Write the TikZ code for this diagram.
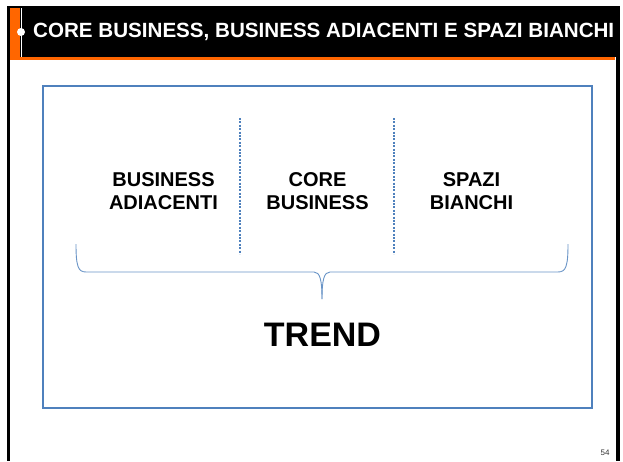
\documentclass[tikz,border=0pt]{standalone}
\usepackage{fontspec}
\setmainfont{Liberation Sans}
\usetikzlibrary{positioning}
\definecolor{slideorange}{RGB}{255,102,0}
\definecolor{boxblue}{RGB}{79,129,189}

\begin{document}
\begin{tikzpicture}[
    x=1pt, y=-1pt,
    label/.style={align=center, inner sep=0pt, font=\fontsize{20}{23.5}\selectfont\bfseries},
    titletext/.style={anchor=west, inner sep=0pt, text=white, font=\fontsize{20.6}{21}\selectfont\bfseries},
    frame/.style={draw=boxblue, line width=1.2pt},
    divider/.style={draw=boxblue, line width=2pt, dash pattern=on 2pt off 1.4pt},
    brace/.style={draw=boxblue!85, line width=0.9pt}
]
    \useasboundingbox (0,0) rectangle (623,461);
    \fill[white] (0,0) rectangle (623,461);
    % slide header and border
    \fill[black] (7,6) rectangle (620,57);
    \fill[black] (7,6) rectangle (10,461);
    \fill[black] (616,6) rectangle (620,461);
    \fill[slideorange] (10,8) rectangle (20,59);
    \fill[slideorange] (10,57) rectangle (615,59.5);
    \draw[white, line width=0.8pt] (21,8) -- (21,57);
    \fill[white] (21,32) circle (4pt);
    \node[titletext] (title) at (33,32) {CORE BUSINESS, BUSINESS ADIACENTI E SPAZI BIANCHI};

    % panel
    \draw[frame] (43,86) rectangle (592,408);
    \node[label] (adiacenti) at (163.5,191) {BUSINESS\\ADIACENTI};
    \node[label] (core) at (317.5,191) {CORE\\BUSINESS};
    \node[label] (spazi) at (471.5,191) {SPAZI\\BIANCHI};

    \coordinate (div1top) at (240,118);
    \coordinate (div1bot) at (240,254);
    \coordinate (div2top) at (394,118);
    \coordinate (div2bot) at (394,254);
    \draw[divider] (div1top) -- (div1bot);
    \draw[divider] (div2top) -- (div2bot);

    % brace
    \coordinate (braceL) at (76,244);
    \coordinate (braceR) at (568,244);
    \coordinate (tip) at (322,299);
    \draw[brace] (braceL) .. controls (76,266) and (78,272) .. (86,272) -- (314,272)
        .. controls (320,272) and (322,280) .. (tip);
    \draw[brace] (braceR) .. controls (568,266) and (566,272) .. (558,272) -- (330,272)
        .. controls (324,272) and (322,280) .. (tip);

    \node[inner sep=0pt, font=\fontsize{34}{40}\selectfont\bfseries] (trend) at (322.5,334.5) {TREND};
    \node[inner sep=0pt, text=black!80, font=\fontsize{8}{9}\selectfont] (page) at (605,453) {54};
\end{tikzpicture}
\end{document}
